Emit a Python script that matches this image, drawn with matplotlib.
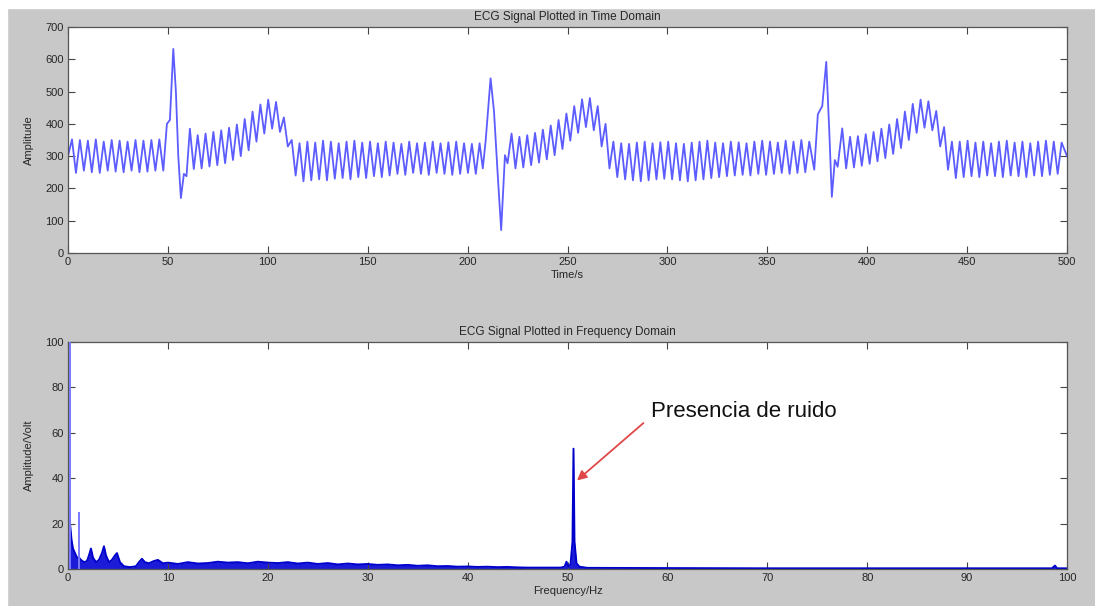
import numpy as np
import matplotlib
matplotlib.use("Agg")
import matplotlib.pyplot as plt
from matplotlib.patches import Rectangle

plt.rcParams['font.family'] = ['Liberation Sans', 'DejaVu Sans']

# ---- time-domain ECG (peaks / troughs) ----
# oscillation runs between the QRS complexes: (start, end) time and the
# alternating extreme values inside each run
RUN_SPANS = [(0.0, 47.7), (61.0, 204.1), (222.0, 369.0), (387.5, 497.3)]
RUN1 = [300, 352, 248, 350, 255, 348, 250, 352, 248, 345, 255, 350, 252,
        348, 250, 345, 255, 350, 250, 348, 252, 350, 255, 352, 255]
RUN2 = [385, 260, 365, 262, 370, 268, 375, 272, 380, 278, 388, 288, 398, 300,
        415, 318, 438, 345, 460, 370, 475, 385, 468, 375, 420, 330, 350, 240,
        340, 222, 345, 225, 342, 228, 348, 225, 345, 230, 340, 232, 345, 228,
        348, 235, 342, 232, 345, 238, 340, 235, 345, 240, 342, 245, 338, 242,
        345, 248, 340, 245, 342, 242, 345, 248, 340, 245, 343, 242, 345, 245,
        340, 248, 338, 245]
RUN3 = [370, 262, 360, 265, 365, 272, 372, 280, 382, 290, 395, 303, 412, 322,
        432, 348, 455, 372, 476, 390, 480, 380, 455, 330, 400, 262, 345, 235,
        340, 228, 338, 225, 342, 222, 345, 225, 340, 228, 343, 230, 345, 228,
        340, 225, 338, 222, 342, 225, 345, 228, 348, 232, 342, 235, 340, 238,
        345, 240, 343, 242, 340, 240, 345, 245, 348, 242, 345, 245, 342, 248,
        348, 245, 345, 248, 350, 250]
RUN4 = [386, 262, 360, 265, 362, 270, 368, 276, 375, 284, 385, 294, 398, 307,
        415, 325, 438, 350, 462, 372, 475, 388, 470, 380, 440, 330, 390, 258,
        345, 232,
        345, 235, 348, 238, 342, 235, 345, 240, 340, 238, 345, 235, 348, 240,
        342, 238, 345, 235, 340, 240, 345, 238, 348, 242, 345, 245, 342]
QRS_T = [[49.5, 51.0, 52.7, 54.0, 55.2, 56.5, 58.0, 59.3],
         [206.0, 207.6, 209.0, 211.5, 213.2, 215.0, 216.8, 218.7, 220.0],
         [371.0, 373.5, 375.3, 377.5, 379.5, 381.0, 382.3, 383.8, 385.2]]
QRS_V = [[400, 412, 632, 500, 300, 170, 245, 238],
         [340, 262, 345, 541, 440, 250, 71, 303, 278],
         [345, 258, 430, 455, 592, 380, 174, 288, 267]]
END_T, END_V = 500.0, 300

# ---- frequency-domain spectrum ----
SPEC_F = [0.0, 0.1, 0.2, 0.35, 0.5, 0.7, 0.9, 1.1, 1.3, 1.6, 1.9, 2.1, 2.3,
          2.5, 2.8, 3.1, 3.4, 3.6, 3.8, 4.1, 4.4, 4.7, 4.9, 5.2, 5.6, 6.2,
          6.8, 7.1, 7.4, 7.7, 8.1, 8.6, 9.0, 9.5, 10,
          11, 12, 13, 14, 15, 16, 17, 18, 19, 20, 21, 22, 23, 24, 25, 26, 27,
          28, 29, 30, 31, 32, 33, 34, 35, 36, 37, 38, 39, 40, 41, 42, 43, 44,
          45, 46, 47, 48,
          49.3, 49.7, 49.9, 50.1, 50.3, 50.5, 50.6, 50.7, 50.9, 51.2, 52, 60,
          70, 80, 90, 98.5, 98.8, 99.0, 99.2, 100]
SPEC_A = [36, 32, 20, 13, 9, 7, 5, 5, 4, 3, 3.5, 6, 9,
          5, 3, 4, 7, 10, 6, 3, 4, 6, 7, 3, 1.2, 0.8,
          1.2, 3, 4.5, 3, 2.5, 3.5, 4, 2.5, 2.8,
          2.2, 3.0, 2.4, 2.6, 3.2, 2.8, 3.0, 2.5, 3.2, 2.8, 2.6, 3.0, 2.4, 2.8,
          2.2, 2.6, 2.0, 2.4, 2.0, 2.2, 1.8, 2.0, 1.6, 1.8, 1.4, 1.6, 1.2, 1.3,
          1.0, 1.1, 0.9, 1.0, 0.8, 0.9, 0.7, 0.6, 0.6, 0.6,
          0.6, 1.0, 3.2, 1.0, 2.0, 12, 53, 12, 2.5, 1.0, 0.5, 0.4,
          0.3, 0.3, 0.3, 0.3, 1.5, 0.3, 0.3, 0.3]
SPIKE_F = [0.2, 1.15]
SPIKE_A = [100, 25]

# assemble the time trace
runs = [RUN1, RUN2, RUN3, RUN4]
t_all, v_all = [], []
for i, (span, vals) in enumerate(zip(RUN_SPANS, runs)):
    t_all += list(np.linspace(span[0], span[1], len(vals)))
    v_all += vals
    if i < len(QRS_T):
        t_all += QRS_T[i]
        v_all += QRS_V[i]
t_all.append(END_T)
v_all.append(END_V)

W, H = 1095, 606
fig = plt.figure(figsize=(W / 100, H / 100), dpi=100, facecolor='#c8c8c8')
# white screenshot border
fig.add_artist(Rectangle((0, 1 - 8 / H), 1, 8 / H, transform=fig.transFigure,
                         color='white', zorder=-1))
fig.add_artist(Rectangle((0, 0), 7 / W, 1, transform=fig.transFigure,
                         color='white', zorder=-1))

L, R = 68 / W, 1067 / W
ax1 = fig.add_axes([L, 1 - 253 / H, R - L, (253 - 27) / H])
ax2 = fig.add_axes([L, 1 - 569 / H, R - L, (569 - 342) / H])

TXT = '#262626'
for ax in (ax1, ax2):
    ax.set_facecolor('white')
    ax.tick_params(direction='in', length=5, width=0.8, top=True, right=True,
                   labelsize=8, colors='#444444', labelcolor=TXT, pad=3)
    for s in ax.spines.values():
        s.set_color('#555555')
        s.set_linewidth(0.9)

ax1.plot(t_all, v_all, color='#5c5cff', lw=1.3)
ax1.set_xlim(0, 500)
ax1.set_ylim(0, 700)
ax1.set_xticks(np.arange(0, 501, 50))
ax1.set_yticks(np.arange(0, 701, 100))
ax1.set_title('ECG Signal Plotted in Time Domain', fontsize=8.5, color=TXT, pad=5)
ax1.set_xlabel('Time/s', fontsize=8, color=TXT, labelpad=2)
ax1.set_ylabel('Amplitude', fontsize=8, color=TXT, labelpad=8)

ax2.fill_between(SPEC_F, 0, SPEC_A, color='#1c1cd8', lw=0)
ax2.plot(SPEC_F, SPEC_A, color='#0000cc', lw=1.4)
ax2.vlines(SPIKE_F, 0, SPIKE_A, color='#7a7aff', lw=1.4, zorder=4)
ax2.set_xlim(0, 100)
ax2.set_ylim(0, 100)
ax2.set_xticks(np.arange(0, 101, 10))
ax2.set_yticks(np.arange(0, 101, 20))
ax2.set_title('ECG Signal Plotted in Frequency Domain', fontsize=8.5, color=TXT, pad=5)
ax2.set_xlabel('Frequency/Hz', fontsize=8, color=TXT, labelpad=2)
ax2.set_ylabel('Amplitude/Volt', fontsize=8, color=TXT, labelpad=8)

ax2.text(58.4, 69.6, 'Presencia de ruido', fontsize=16, color='#111111',
         ha='left', va='center')
ax2.annotate('', xy=(50.95, 39), xytext=(57.6, 64.3),
             arrowprops=dict(arrowstyle='-|>', color='#e04848', lw=1.3,
                             mutation_scale=14, shrinkA=0, shrinkB=0))

fig.savefig('out.png', dpi=100, facecolor=fig.get_facecolor())
